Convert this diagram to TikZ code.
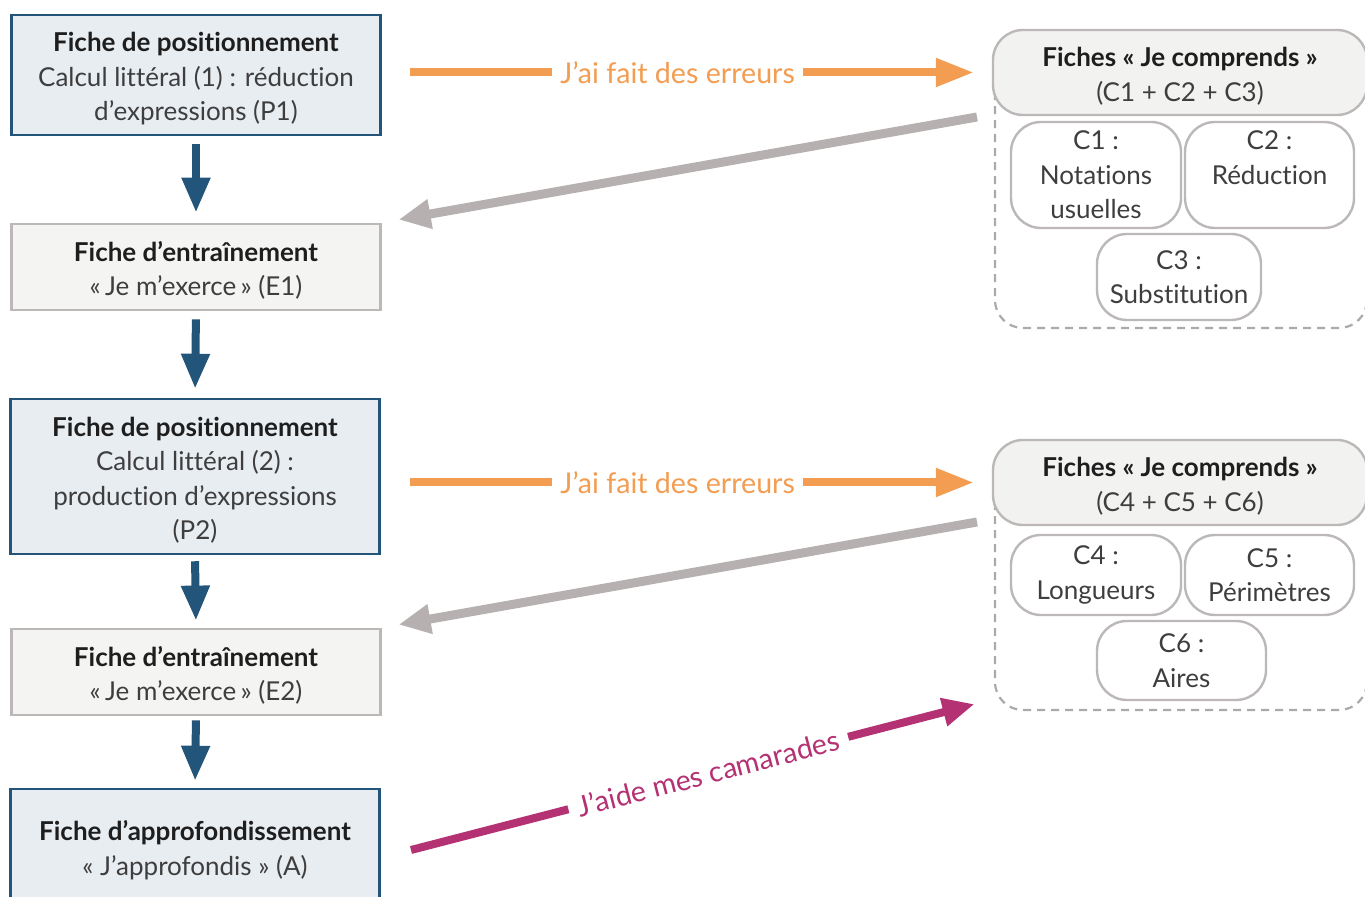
\documentclass[tikz,border=0pt]{standalone}
\usepackage{fontspec}
\setmainfont{Lato}[Ligatures=NoCommon]
\usetikzlibrary{arrows.meta}

\definecolor{flowblue}{RGB}{35,84,122}
\definecolor{posfill}{RGB}{232,237,242}
\definecolor{trainfill}{RGB}{244,244,242}
\definecolor{boxgrey}{RGB}{188,184,184}
\definecolor{backgrey}{RGB}{183,176,177}
\definecolor{errorange}{RGB}{242,157,82}
\definecolor{helpmagenta}{RGB}{180,50,115}
\definecolor{titletext}{RGB}{30,30,30}
\definecolor{bodytext}{RGB}{62,62,62}
\definecolor{headfill}{RGB}{242,242,240}
\definecolor{dashgrey}{RGB}{170,170,170}

% bold first line of a box, with a strut that lowers the block slightly
\newcommand\boxtitle[1]{\rule{0pt}{13.5pt}{\color{titletext}\bfseries #1}}

\begin{document}
\begin{tikzpicture}[x=0.5pt,y=-0.5pt,
  every node/.style={font=\fontsize{13}{17.3}\selectfont, text=bodytext, align=center, inner sep=0pt},
  posbox/.style={draw=flowblue, line width=1.25pt, fill=posfill, minimum width=184.5pt},
  trainbox/.style={draw=boxgrey, line width=1.4pt, fill=trainfill, minimum width=184.5pt},
  headbox/.style={draw=boxgrey, line width=1.2pt, fill=headfill, rounded corners=15pt,
    minimum width=187pt, minimum height=42.5pt},
  groupbox/.style={draw=dashgrey, line width=1.1pt, dash pattern=on 4pt off 3pt,
    rounded corners=14pt, minimum width=186pt},
  subbox/.style={draw=boxgrey, line width=1.2pt, fill=white, rounded corners=15pt},
  downarrow/.style={draw=flowblue, line width=4pt, -{Triangle[length=17.5pt,width=13.5pt]}},
  errarrow/.style={draw=errorange, line width=4pt, -{Triangle[length=19pt,width=13.5pt]}},
  backarrow/.style={draw=backgrey, line width=4.5pt, -{Triangle[length=16pt,width=14pt]}},
  helparrow/.style={draw=helpmagenta, line width=4pt, -{Triangle[length=16pt,width=13.5pt]}},
  errlabel/.style={fill=white, inner xsep=4pt, inner ysep=2pt, text=errorange,
    font=\fontsize{14.3}{17}\selectfont}
]
\useasboundingbox (0,0) rectangle (1365,897);
\clip (0,0) rectangle (1365,897);

% left column: the sequence of worksheets
\node[posbox, minimum height=60pt] (P1) at (196,75)
  {\boxtitle{Fiche de positionnement}\\Calcul littéral (1) : réduction\\d’expressions (P1)};
\node[trainbox, minimum height=43pt] (E1) at (196,267)
  {\boxtitle{Fiche d’entraînement}\\«\,Je m’exerce\,» (E1)};
\node[posbox, minimum height=77.5pt] (P2) at (195,476.5)
  {\boxtitle{Fiche de positionnement}\\Calcul littéral (2) :\\production d’expressions\\(P2)};
\node[trainbox, minimum height=43pt] (E2) at (196,672)
  {\boxtitle{Fiche d’entraînement}\\«\,Je m’exerce\,» (E2)};
\node[posbox, minimum height=58pt] (A) at (195,847)
  {\boxtitle{Fiche d’approfondissement}\\« J’approfondis » (A)};

\draw[downarrow, shorten <=4pt, shorten >=5pt] (P1.south) -- (E1.north);
\draw[downarrow, shorten <=4pt, shorten >=4.5pt] (E1.south) -- (P2.north);
\draw[downarrow, shorten <=3pt, shorten >=3.5pt] (P2.south) -- (E2.north);
\draw[downarrow, shorten <=2pt, shorten >=3.5pt] (E2.south) -- (A.north);

% first group of "Je comprends" sheets
\node[groupbox, minimum height=134pt] (G1) at (1181,194) {};
\node[headbox] (H1) at (1180,72.5)
  {\boxtitle{Fiches « Je comprends »}\\(C1 + C2 + C3)};
\node[subbox, minimum width=85pt, minimum height=53pt] (C1) at (1096,175)
  {C1 :\\Notations\\usuelles};
\node[subbox, minimum width=84.5pt, minimum height=53pt] (C2) at (1269.5,175)
  {C2 :\\Réduction\\\mbox{}};
\node[subbox, minimum width=82pt, minimum height=43pt] (C3) at (1179,277)
  {C3 :\\Substitution};

% second group of "Je comprends" sheets
\node[groupbox, minimum height=120pt] (G2) at (1181,590) {};
\node[headbox] (H2) at (1180,482.5)
  {\boxtitle{Fiches « Je comprends »}\\(C4 + C5 + C6)};
\node[subbox, minimum width=85pt, minimum height=40pt] (C4) at (1096,575)
  {C4 :\\Longueurs};
\node[subbox, minimum width=84.5pt, minimum height=40pt] (C5) at (1269.5,575)
  {C5 :\\Périmètres};
\node[subbox, minimum width=84.5pt, minimum height=39.5pt] (C6) at (1181.5,660.5)
  {C6 :\\Aires};

% links between the column and the groups
\coordinate (o1) at (410,72.5);
\coordinate (o2) at (410,482.5);
\draw[errarrow, shorten >=9pt] (o1) -- (H1.west)
  node[errlabel, pos=0.46] {J’ai fait des erreurs};
\draw[errarrow, shorten >=9pt] (o2) -- (H2.west)
  node[errlabel, pos=0.46] {J’ai fait des erreurs};

\coordinate (b1) at (977,117);
\coordinate (b2) at (977,522);
\draw[backarrow, shorten >=8.5pt] (b1) -- (E1.north east);
\draw[backarrow, shorten >=8.5pt] (b2) -- (E2.north east);

\coordinate (m1) at (411,850);
\draw[helparrow, shorten >=10pt] (m1) -- ([shift={(0,-12)}]G2.south west)
  node[errlabel, text=helpmagenta, sloped, pos=0.51, inner xsep=5pt] {J’aide mes camarades};
\end{tikzpicture}
\end{document}
